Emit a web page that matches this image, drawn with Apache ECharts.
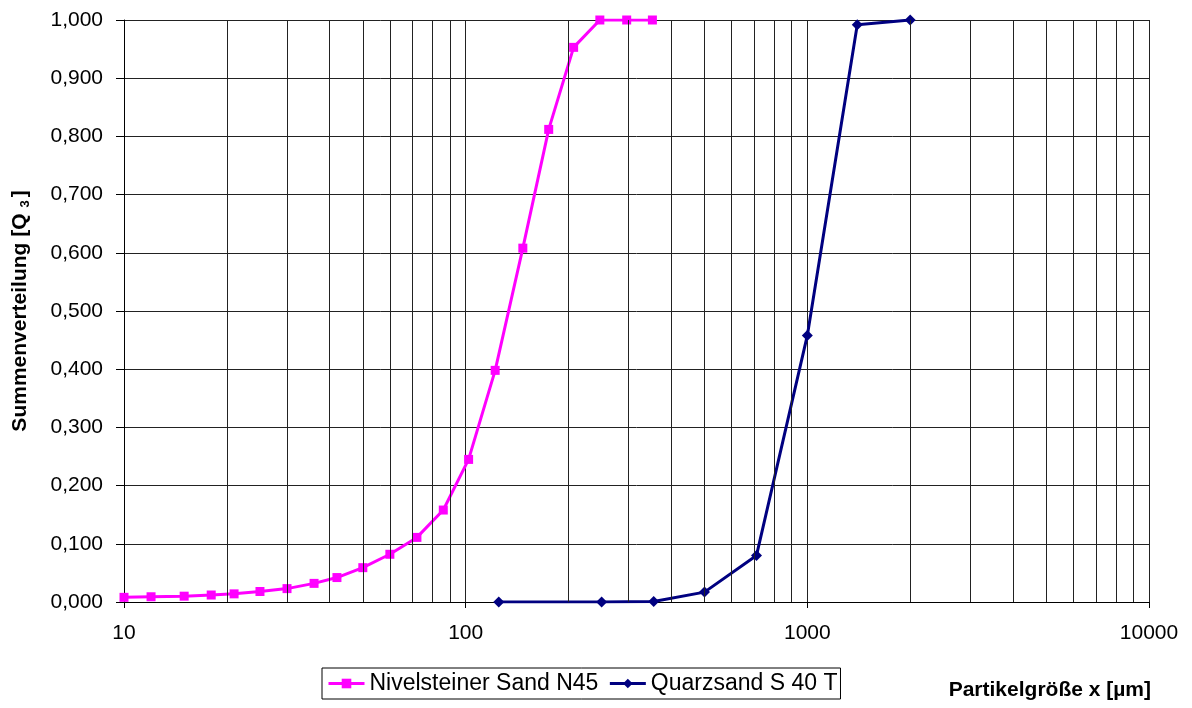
<!DOCTYPE html>
<html>
<head>
<meta charset="utf-8">
<script src="https://cdn.jsdelivr.net/npm/echarts@6/dist/echarts.min.js"></script>
<style>
html,body{margin:0;padding:0;background:#fff;}
#c{width:1192px;height:708px;}
</style>
</head>
<body>
<div id="c"></div>
<script>
// Data
const nivName = 'Nivelsteiner Sand N45';
const nivX = [10, 12, 15, 18, 21, 25, 30, 36, 42, 50, 60, 72, 86, 102, 122, 147, 175, 207, 247, 296, 352];
const nivY = [0.008, 0.009, 0.010, 0.012, 0.014, 0.018, 0.023, 0.032, 0.042, 0.059, 0.082, 0.111, 0.158, 0.245, 0.398, 0.608, 0.812, 0.953, 1.000, 1.000, 1.000];
const quName = 'Quarzsand S 40 T';
const quX = [125, 250, 355, 500, 710, 1000, 1400, 2000];
const quY = [0.000, 0.000, 0.001, 0.017, 0.080, 0.458, 0.992, 1.000];
const minorGridX = [20, 30, 40, 50, 60, 70, 80, 90, 200, 300, 400, 500, 600, 700, 800, 900, 2000, 3000, 4000, 5000, 6000, 7000, 8000, 9000];
const xAxisTitle = 'Partikelgröße x [µm]';
const yAxisTitle = '{a|Summenverteilung [Q }{s|3}{a|]}';

const FONT = '"Liberation Sans", Arial, sans-serif';
const chart = echarts.init(document.getElementById('c'), null, {renderer: 'canvas'});

const option = {
  backgroundColor: '#fff',
  animation: false,
  textStyle: {fontFamily: FONT},
  grid: {left: 124, right: 43, top: 20, bottom: 106, containLabel: false},
  legend: {
    data: [nivName, quName],
    left: 322, top: 668,
    orient: 'horizontal',
    borderColor: '#000', borderWidth: 1,
    padding: [4, 3, 4, 5],
    itemWidth: 36, itemHeight: 12, itemGap: 10,
    lineStyle: {width: 3},
    textStyle: {fontFamily: FONT, fontSize: 23, color: '#000'}
  },
  xAxis: {
    type: 'log', logBase: 10, min: 10, max: 10000,
    axisLine: {show: true, onZero: false, lineStyle: {color: '#000', width: 1}},
    axisTick: {show: true, length: 6, lineStyle: {color: '#000'}},
    axisLabel: {
      margin: 21, fontSize: 21, color: '#000', fontFamily: FONT,
      formatter: v => String(Math.round(v))
    },
    splitLine: {show: true, lineStyle: {color: '#222', width: 1}}
  },
  yAxis: {
    type: 'value', min: 0, max: 1, interval: 0.1,
    name: yAxisTitle, nameLocation: 'middle', nameGap: 92, nameRotate: 90,
    nameTextStyle: {
      rich: {
        a: {fontFamily: FONT, fontSize: 21, fontWeight: 'bold', color: '#000'},
        s: {fontFamily: FONT, fontSize: 13, fontWeight: 'bold', color: '#000', verticalAlign: 'bottom', padding: [10, 3, 0, 0]}
      }
    },
    axisLine: {show: true, lineStyle: {color: '#000', width: 1}},
    axisTick: {show: true, length: 8, lineStyle: {color: '#000'}},
    axisLabel: {
      margin: 21, fontSize: 21, color: '#000', fontFamily: FONT,
      formatter: v => v.toFixed(3).replace('.', ',')
    },
    splitLine: {show: true, lineStyle: {color: '#222', width: 1}}
  },
  graphic: [{
    type: 'text', right: 41, top: 680,
    style: {text: xAxisTitle, fill: '#000', font: 'bold 21px ' + FONT}
  }],
  series: [
    {
      name: 'minor', type: 'line', data: [], z: 1, silent: true,
      markLine: {
        silent: true, symbol: ['none', 'none'], animation: false,
        label: {show: false},
        lineStyle: {color: '#222', width: 1, type: 'solid'},
        emphasis: {disabled: true},
        data: minorGridX.map(v => ({xAxis: v}))
      }
    },
    {
      name: nivName, type: 'line', z: 3,
      data: nivX.map((x, i) => [x, nivY[i]]),
      symbol: 'rect', symbolSize: 9,
      lineStyle: {color: '#FF00FF', width: 3},
      itemStyle: {color: '#FF00FF'}
    },
    {
      name: quName, type: 'line', z: 3,
      data: quX.map((x, i) => [x, quY[i]]),
      symbol: 'diamond', symbolSize: 11,
      lineStyle: {color: '#000080', width: 3},
      itemStyle: {color: '#000080'}
    }
  ]
};
chart.setOption(option);
</script>
</body>
</html>
